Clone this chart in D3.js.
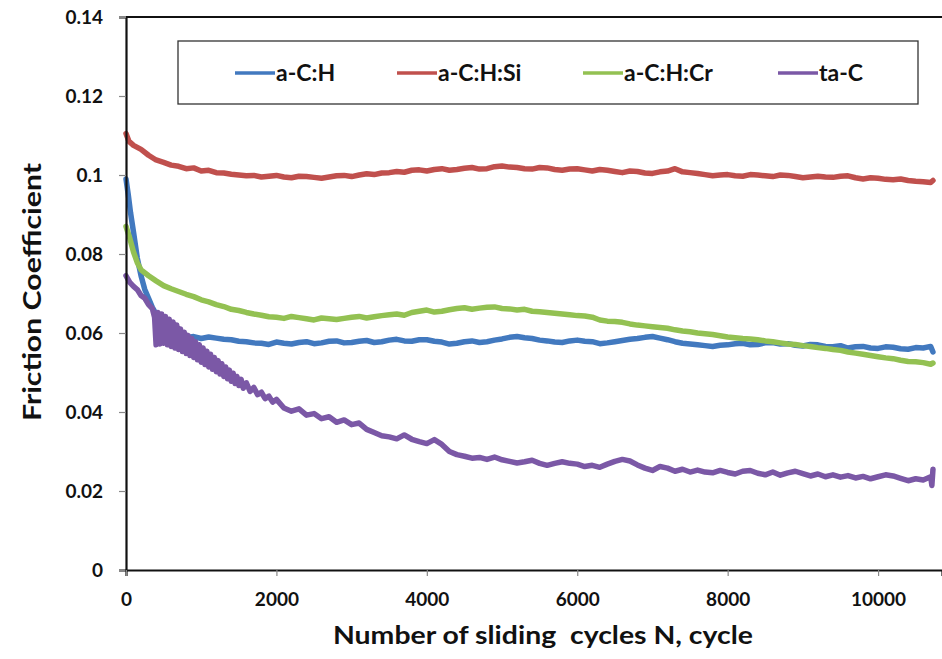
<!DOCTYPE html>
<html>
<head>
<meta charset="utf-8">
<script src="https://cdn.jsdelivr.net/npm/d3@7"></script>
<style>
  body { margin: 0; background: #fff; }
  svg { display: block; }
  text { font-family: Lato, "Open Sans", sans-serif; font-weight: bold; fill: #111; }
</style>
</head>
<body>
<div id="chart"></div>
<script>
'use strict';

// series names, in draw order
var seriesNames = ["a-C:H", "a-C:H:Si", "a-C:H:Cr", "ta-C"];
var seriesColors = ["#4279bf", "#c0504d", "#93c152", "#7b58a6"];

// [sliding cycles, friction coefficient]
var aCH = [
  [0, 0.099], [30, 0.095], [60, 0.0905], [100, 0.0855], [150, 0.079], [200, 0.0745],
  [250, 0.071], [300, 0.0688], [350, 0.0665], [400, 0.0648], [450, 0.0633], [500, 0.062],
  [600, 0.0602], [700, 0.0593], [800, 0.0588], [900, 0.0591], [1000, 0.0586], [1100, 0.0590],
  [1200, 0.0587], [1300, 0.0584], [1400, 0.0583], [1500, 0.0579], [1600, 0.0578], [1700, 0.0575],
  [1800, 0.0574], [1900, 0.0571], [2000, 0.0577], [2100, 0.0574], [2200, 0.0572], [2300, 0.0576],
  [2400, 0.0578], [2500, 0.0573], [2600, 0.0575], [2700, 0.0579], [2800, 0.058], [2900, 0.0575],
  [3000, 0.0576], [3100, 0.0579], [3200, 0.0581], [3300, 0.0576], [3400, 0.0578], [3500, 0.0582],
  [3600, 0.0584], [3700, 0.0580], [3800, 0.0579], [3900, 0.0583], [4000, 0.0583], [4100, 0.0579],
  [4200, 0.0577], [4300, 0.0572], [4400, 0.0574], [4500, 0.0578], [4600, 0.058], [4700, 0.0576],
  [4800, 0.0578], [4900, 0.0582], [5000, 0.0585], [5100, 0.0589], [5200, 0.0591], [5300, 0.0588],
  [5400, 0.0586], [5500, 0.0582], [5600, 0.058], [5700, 0.0577], [5800, 0.0576], [5900, 0.0580],
  [6000, 0.0582], [6100, 0.0579], [6200, 0.0578], [6300, 0.0573], [6400, 0.0575], [6500, 0.0578],
  [6600, 0.0581], [6700, 0.0584], [6800, 0.0586], [6900, 0.0589], [7000, 0.0591], [7100, 0.0587],
  [7200, 0.0583], [7300, 0.0578], [7400, 0.0574], [7500, 0.0572], [7600, 0.057], [7700, 0.0568],
  [7800, 0.0566], [7900, 0.0569], [8000, 0.057], [8100, 0.0573], [8200, 0.0574], [8300, 0.0570],
  [8400, 0.0571], [8500, 0.0575], [8600, 0.0576], [8700, 0.0572], [8800, 0.0573], [8900, 0.0569],
  [9000, 0.0567], [9100, 0.0571], [9200, 0.057], [9300, 0.0566], [9400, 0.0565], [9500, 0.0568],
  [9600, 0.0562], [9700, 0.0565], [9800, 0.0566], [9900, 0.0562], [10000, 0.0561], [10100, 0.0565],
  [10200, 0.0564], [10300, 0.0560], [10400, 0.0559], [10500, 0.0563], [10600, 0.0562], [10700, 0.0566],
  [10730, 0.0552]
];

var aCHSi = [
  [0, 0.1105], [40, 0.1085], [100, 0.1075], [200, 0.1065], [300, 0.105], [400, 0.1038],
  [500, 0.1032], [600, 0.1025], [700, 0.1022], [800, 0.1016], [900, 0.1018], [1000, 0.101],
  [1100, 0.1012], [1200, 0.1006], [1300, 0.1005], [1400, 0.1002], [1500, 0.1000], [1600, 0.0998],
  [1700, 0.0999], [1800, 0.0995], [1900, 0.0997], [2000, 0.0999], [2100, 0.0995], [2200, 0.0993],
  [2300, 0.0997], [2400, 0.0996], [2500, 0.0994], [2600, 0.0992], [2700, 0.0995], [2800, 0.0998],
  [2900, 0.0999], [3000, 0.0996], [3100, 0.1000], [3200, 0.1003], [3300, 0.1001], [3400, 0.1005],
  [3500, 0.1006], [3600, 0.1009], [3700, 0.1007], [3800, 0.1012], [3900, 0.1013], [4000, 0.101],
  [4100, 0.1014], [4200, 0.1016], [4300, 0.1012], [4400, 0.1014], [4500, 0.1017], [4600, 0.1019],
  [4700, 0.1015], [4800, 0.1016], [4900, 0.1021], [5000, 0.1023], [5100, 0.1020], [5200, 0.1019],
  [5300, 0.1016], [5400, 0.1015], [5500, 0.1019], [5600, 0.1018], [5700, 0.1014], [5800, 0.1012],
  [5900, 0.1015], [6000, 0.1016], [6100, 0.1013], [6200, 0.101], [6300, 0.1014], [6400, 0.1012],
  [6500, 0.1009], [6600, 0.1006], [6700, 0.1010], [6800, 0.1009], [6900, 0.1005], [7000, 0.1004],
  [7100, 0.1008], [7200, 0.101], [7300, 0.1016], [7400, 0.1008], [7500, 0.1006], [7600, 0.1004],
  [7700, 0.1001], [7800, 0.0998], [7900, 0.1000], [8000, 0.1001], [8100, 0.0998], [8200, 0.0997],
  [8300, 0.1001], [8400, 0.1], [8500, 0.0998], [8600, 0.0996], [8700, 0.1000], [8800, 0.0999],
  [8900, 0.0996], [9000, 0.0993], [9100, 0.0995], [9200, 0.0997], [9300, 0.0995], [9400, 0.0994],
  [9500, 0.0997], [9600, 0.0998], [9700, 0.0993], [9800, 0.099], [9900, 0.0993], [10000, 0.0992],
  [10100, 0.0989], [10200, 0.0988], [10300, 0.0990], [10400, 0.0986], [10500, 0.0984], [10600, 0.0983],
  [10700, 0.0981], [10730, 0.0986]
];

var aCHCr = [
  [0, 0.087], [50, 0.084], [100, 0.0805], [150, 0.0778], [200, 0.076], [300, 0.0745],
  [400, 0.0732], [500, 0.072], [600, 0.0712], [700, 0.0705], [800, 0.0698], [900, 0.0692],
  [1000, 0.0684], [1100, 0.0679], [1200, 0.0672], [1300, 0.0667], [1400, 0.066], [1500, 0.0657],
  [1600, 0.0652], [1700, 0.0648], [1800, 0.0645], [1900, 0.0641], [2000, 0.064], [2100, 0.0637],
  [2200, 0.0642], [2300, 0.0639], [2400, 0.0636], [2500, 0.0633], [2600, 0.0638], [2700, 0.0636],
  [2800, 0.0634], [2900, 0.0637], [3000, 0.064], [3100, 0.0642], [3200, 0.0638], [3300, 0.0641],
  [3400, 0.0644], [3500, 0.0646], [3600, 0.0648], [3700, 0.0645], [3800, 0.0652], [3900, 0.0655],
  [4000, 0.0658], [4100, 0.0653], [4200, 0.0655], [4300, 0.0659], [4400, 0.0662], [4500, 0.0664],
  [4600, 0.066], [4700, 0.0663], [4800, 0.0665], [4900, 0.0666], [5000, 0.0662], [5100, 0.0661],
  [5200, 0.0658], [5300, 0.0660], [5400, 0.0655], [5500, 0.0654], [5600, 0.0652], [5700, 0.0650],
  [5800, 0.0648], [5900, 0.0646], [6000, 0.0644], [6100, 0.0643], [6200, 0.064], [6300, 0.0633],
  [6400, 0.063], [6500, 0.0629], [6600, 0.0627], [6700, 0.0623], [6800, 0.062], [6900, 0.0618],
  [7000, 0.0616], [7100, 0.0614], [7200, 0.0612], [7300, 0.0608], [7400, 0.0605], [7500, 0.0603],
  [7600, 0.06], [7700, 0.0598], [7800, 0.0596], [7900, 0.0593], [8000, 0.059], [8100, 0.0588],
  [8200, 0.0586], [8300, 0.0585], [8400, 0.0583], [8500, 0.0580], [8600, 0.0578], [8700, 0.0575],
  [8800, 0.0572], [8900, 0.0571], [9000, 0.0568], [9100, 0.0566], [9200, 0.0563], [9300, 0.0561],
  [9400, 0.0558], [9500, 0.0556], [9600, 0.0552], [9700, 0.0549], [9800, 0.0546], [9900, 0.0543],
  [10000, 0.054], [10100, 0.0537], [10200, 0.0535], [10300, 0.0531], [10400, 0.0528], [10500, 0.0527],
  [10600, 0.0525], [10700, 0.0521], [10730, 0.0524]
];

var taC = [
  [0, 0.0745], [50, 0.0728], [100, 0.0718], [150, 0.071], [200, 0.0695], [250, 0.0688],
  [300, 0.0672], [350, 0.0662], [380, 0.064], [400, 0.0570], [425, 0.0652], [450, 0.0572],
  [475, 0.0648], [500, 0.0574], [525, 0.0642], [550, 0.0570], [575, 0.0635], [600, 0.0566],
  [625, 0.0628], [650, 0.0562], [675, 0.0620], [700, 0.0558], [725, 0.0610], [750, 0.0553],
  [775, 0.0602], [800, 0.0548], [825, 0.0594], [850, 0.0543], [875, 0.0586], [900, 0.0538],
  [925, 0.0578], [950, 0.0532], [975, 0.0570], [1000, 0.0526], [1025, 0.0562], [1050, 0.0520],
  [1075, 0.0554], [1100, 0.0514], [1125, 0.0546], [1150, 0.0508], [1175, 0.0538], [1200, 0.0502],
  [1225, 0.0530], [1250, 0.0496], [1275, 0.0522], [1300, 0.0490], [1325, 0.0514], [1350, 0.0484],
  [1375, 0.0506], [1400, 0.0478], [1425, 0.0498], [1450, 0.0472], [1475, 0.0490], [1500, 0.0467],
  [1530, 0.0483], [1560, 0.0460], [1600, 0.0474], [1650, 0.0452], [1700, 0.0462], [1750, 0.0444],
  [1800, 0.0450], [1850, 0.0434], [1900, 0.0440], [1950, 0.0425], [2000, 0.0432], [2100, 0.041],
  [2200, 0.0402], [2300, 0.0408], [2400, 0.0392], [2500, 0.0396], [2600, 0.0383], [2700, 0.0388],
  [2800, 0.0374], [2900, 0.038], [3000, 0.0368], [3100, 0.0372], [3200, 0.0356], [3300, 0.0348],
  [3400, 0.034], [3500, 0.0337], [3600, 0.0332], [3700, 0.0342], [3800, 0.0331], [3900, 0.0325],
  [4000, 0.032], [4100, 0.033], [4200, 0.0318], [4300, 0.03], [4400, 0.0292], [4500, 0.0288],
  [4600, 0.0283], [4700, 0.0285], [4800, 0.028], [4900, 0.0286], [5000, 0.0279], [5100, 0.0275],
  [5200, 0.0271], [5300, 0.0274], [5400, 0.0278], [5500, 0.027], [5600, 0.0265], [5700, 0.027],
  [5800, 0.0274], [5900, 0.027], [6000, 0.0268], [6100, 0.0262], [6200, 0.0265], [6300, 0.026],
  [6400, 0.0268], [6500, 0.0275], [6600, 0.028], [6700, 0.0276], [6800, 0.0266], [6900, 0.0258],
  [7000, 0.0252], [7100, 0.0262], [7200, 0.0258], [7300, 0.025], [7400, 0.0255], [7500, 0.0248],
  [7600, 0.0253], [7700, 0.0248], [7800, 0.0246], [7900, 0.0252], [8000, 0.0247], [8100, 0.0243],
  [8200, 0.025], [8300, 0.0252], [8400, 0.0245], [8500, 0.0241], [8600, 0.0248], [8700, 0.024],
  [8800, 0.0246], [8900, 0.025], [9000, 0.0244], [9100, 0.0238], [9200, 0.0243], [9300, 0.0236],
  [9400, 0.0241], [9500, 0.0235], [9600, 0.0239], [9700, 0.0233], [9800, 0.0237], [9900, 0.0231],
  [10000, 0.0236], [10100, 0.0241], [10200, 0.0238], [10300, 0.0232], [10400, 0.0226], [10500, 0.0231],
  [10600, 0.0228], [10700, 0.0236], [10715, 0.0214], [10730, 0.0255]
];

var xTicks = [0, 2000, 4000, 6000, 8000, 10000];
var yTicks = [0, 0.02, 0.04, 0.06, 0.08, 0.1, 0.12, 0.14];
var yTickLabels = ["0", "0.02", "0.04", "0.06", "0.08", "0.1", "0.12", "0.14"];

var allSeries = [aCH, aCHSi, aCHCr, taC];

var width = 942, height = 659;
var plot = { left: 126, right: 942, top: 17, bottom: 570 };

var svg = d3.select("#chart").append("svg")
  .attr("width", width)
  .attr("height", height);

var xScale = d3.scaleLinear().domain([0, 10850]).range([plot.left, plot.right]);
var yScale = d3.scaleLinear().domain([0, 0.14]).range([plot.bottom, plot.top]);

var line = d3.line()
  .x(function(d) { return xScale(d[0]); })
  .y(function(d) { return yScale(d[1]); });

// data lines
svg.append("g").attr("class", "series")
  .selectAll("path")
  .data(allSeries)
  .enter()
  .append("path")
  .attr("d", line)
  .attr("fill", "none")
  .attr("stroke", function(d, i) { return seriesColors[i]; })
  .attr("stroke-width", 5.5)
  .attr("stroke-linejoin", "round")
  .attr("stroke-linecap", "round");

// top frame line
svg.append("line")
  .attr("x1", plot.left).attr("x2", plot.right)
  .attr("y1", plot.top).attr("y2", plot.top)
  .attr("stroke", "#111").attr("stroke-width", 2);

// y axis
var yAxis = d3.axisLeft(yScale)
  .tickValues(yTicks)
  .tickSize(7)
  .tickPadding(16)
  .tickFormat(function(d, i) { return yTickLabels[i]; });

var yg = svg.append("g")
  .attr("transform", "translate(" + plot.left + ",0)")
  .call(yAxis);

// x axis
var xAxis = d3.axisBottom(xScale)
  .tickValues(xTicks)
  .tickSize(6)
  .tickPadding(17)
  .tickFormat(d3.format("d"));

var xg = svg.append("g")
  .attr("transform", "translate(0," + plot.bottom + ")")
  .call(xAxis);

[yg, xg].forEach(function(g) {
  g.select(".domain").attr("stroke", "#111").attr("stroke-width", 2.2);
  g.selectAll(".tick line").attr("stroke", "#888").attr("stroke-width", 1.2);
  g.selectAll(".tick text")
    .attr("font-family", "Lato, 'Open Sans', sans-serif")
    .attr("font-weight", "bold")
    .attr("font-size", 19)
    .attr("fill", "#111");
});

// axis titles
svg.append("text")
  .attr("x", 543).attr("y", 644)
  .attr("text-anchor", "middle")
  .attr("font-size", 24)
  .attr("textLength", 420)
  .attr("lengthAdjust", "spacingAndGlyphs")
  .style("white-space", "pre")
  .text("Number of sliding  cycles N, cycle");

svg.append("text")
  .attr("transform", "translate(41,292) rotate(-90)")
  .attr("text-anchor", "middle")
  .attr("font-size", 25)
  .attr("textLength", 258)
  .attr("lengthAdjust", "spacingAndGlyphs")
  .text("Friction Coefficient");

// legend
var legendX = [235, 397, 583, 778];
var legend = svg.append("g").attr("class", "legend");

legend.append("rect")
  .attr("x", 178).attr("y", 41)
  .attr("width", 740).attr("height", 63)
  .attr("fill", "#fff")
  .attr("stroke", "#333")
  .attr("stroke-width", 1.3);

var item = legend.selectAll(".item")
  .data(seriesNames)
  .enter()
  .append("g")
  .attr("class", "item")
  .attr("transform", function(d, i) { return "translate(" + legendX[i] + ",73)"; });

item.append("line")
  .attr("x1", 0).attr("x2", 40)
  .attr("stroke", function(d, i) { return seriesColors[i]; })
  .attr("stroke-width", 3.5);

item.append("text")
  .attr("x", 41).attr("y", 8)
  .attr("font-size", 23)
  .text(function(d) { return d; });
</script>
</body>
</html>
